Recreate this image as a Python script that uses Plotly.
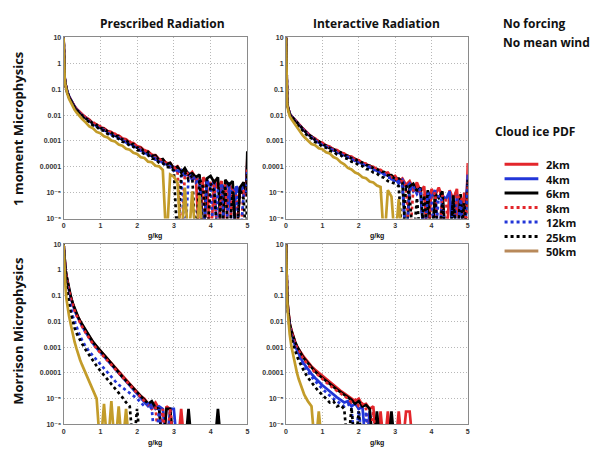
import numpy as np
import plotly.graph_objects as go

W, H = 590, 449

# ---------------- data ----------------
# bin positions (g/kg)
g_per_kg = [0, 0.01, 0.02, 0.03, 0.05, 0.075, 0.1, 0.15, 0.2, 0.25, 0.3, 0.35, 0.4, 0.45, 0.5,
            0.6, 0.7, 0.8, 0.9, 1.0, 1.1, 1.2, 1.3, 1.4, 1.5, 1.6, 1.7, 1.8, 1.9, 2.0,
            2.1, 2.2, 2.3, 2.4, 2.5, 2.6, 2.7, 2.8, 2.9, 3.0, 3.1, 3.2, 3.3, 3.4, 3.5,
            3.6, 3.7, 3.8, 3.9, 4.0, 4.1, 4.2, 4.3, 4.4, 4.5, 4.6, 4.7, 4.8, 4.9, 4.97, 5.0]

resolutions = ["2km", "4km", "6km", "8km", "12km", "25km", "50km"]
y_tick_values = [10, 1, 0.1, 0.01, 0.001, 0.0001, 1e-5, 1e-6]
y_tick_labels = ["10", "1", "0.1", "0.01", "0.001", "0.0001", "10\u207b\u2075", "10\u207b\u2076"]
x_tick_values = [0, 1, 2, 3, 4, 5]

# log10 of the cloud-ice PDF (-7 = empty bin, below the axis)
# --- Prescribed radiation, 1 moment microphysics ---
tl_2km = [1.0, 0.2, -0.3, -0.55, -0.8, -0.98, -1.1, -1.3, -1.44, -1.56, -1.66, -1.75, -1.83, -1.9, -1.96,
          -2.08, -2.17, -2.31, -2.36, -2.47, -2.51, -2.62, -2.65, -2.76, -2.79,
          -2.9, -2.93, -3.06, -3.08, -3.2, -3.24, -3.37, -3.4, -3.55, -3.55,
          -3.7, -3.72, -3.86, -3.85, -4.05, -3.98, -4.2, -4.12, -4.35, -4.2,
          -4.45, -7, -4.4, -4.6, -7, -4.5, -4.85, -4.55, -7, -4.65,
          -4.9, -7, -4.75, -5.1, -4.8, -3.7]
tl_4km = [1.0, 0.22, -0.28, -0.52, -0.78, -0.96, -1.08, -1.28, -1.43, -1.56, -1.67, -1.77, -1.86, -1.93, -2.0,
          -2.1, -2.25, -2.31, -2.44, -2.48, -2.6, -2.63, -2.75, -2.78, -2.9,
          -2.93, -3.06, -3.08, -3.21, -3.25, -3.38, -3.41, -3.55, -3.57, -3.72,
          -3.72, -3.85, -3.88, -4.02, -4.0, -4.2, -4.12, -4.35, -4.25, -4.5,
          -4.4, -4.65, -7, -4.5, -4.75, -4.55, -7, -4.7, -4.85, -4.6,
          -7, -4.75, -5.0, -4.7, -5.1, -3.9]
tl_6km = [1.0, 0.18, -0.32, -0.56, -0.8, -0.97, -1.1, -1.3, -1.45, -1.58, -1.69, -1.79, -1.87, -1.94, -2.01,
          -2.13, -2.2, -2.33, -2.38, -2.5, -2.53, -2.64, -2.68, -2.79, -2.82,
          -2.95, -2.97, -3.1, -3.12, -3.26, -3.27, -3.42, -3.42, -3.58, -3.56,
          -3.75, -3.7, -3.9, -3.85, -4.08, -4.0, -4.22, -4.05, -4.3, -4.25,
          -4.4, -4.3, -7, -4.45, -4.35, -4.6, -4.4, -7, -4.5, -4.7,
          -4.55, -7, -4.8, -4.6, -5.0, -3.4]
tl_8km = [1.0, 0.2, -0.3, -0.54, -0.79, -0.97, -1.1, -1.29, -1.44, -1.57, -1.68, -1.77, -1.85, -1.92, -1.98,
          -2.1, -2.22, -2.27, -2.4, -2.43, -2.55, -2.58, -2.7, -2.72, -2.84,
          -2.87, -2.99, -3.02, -3.15, -3.18, -3.31, -3.35, -3.48, -3.51, -3.65,
          -3.68, -3.83, -3.84, -4.0, -4.02, -4.15, -7, -4.3, -4.22, -4.5,
          -4.38, -4.65, -4.45, -7, -4.6, -4.75, -7, -4.85, -4.7, -7,
          -4.8, -5.05, -7, -4.9, -5.2, -4.0]
tl_12km = [1.0, 0.2, -0.3, -0.55, -0.8, -0.98, -1.11, -1.31, -1.46, -1.59, -1.7, -1.8, -1.88, -1.96, -2.03,
           -2.17, -2.24, -2.38, -2.43, -2.55, -2.58, -2.7, -2.73, -2.85, -2.88,
           -2.99, -3.03, -3.15, -3.18, -3.31, -3.35, -3.48, -3.5, -3.64, -3.67,
           -3.8, -3.83, -3.96, -3.98, -4.15, -4.1, -4.3, -7, -4.42, -4.3,
           -4.6, -4.45, -7, -4.55, -4.8, -7, -4.9, -4.7, -7, -4.85,
           -5.0, -4.8, -7, -5.1, -5.0, -4.2]
tl_25km = [1.0, 0.18, -0.32, -0.57, -0.82, -1.0, -1.13, -1.33, -1.48, -1.61, -1.72, -1.82, -1.9, -1.98, -2.05,
           -2.19, -2.26, -2.4, -2.45, -2.58, -2.6, -2.73, -2.76, -2.88, -2.91,
           -3.03, -3.06, -3.19, -3.22, -3.35, -3.38, -3.52, -3.54, -3.68, -3.7,
           -3.84, -3.86, -4.0, -4.02, -4.15, -7, -4.35, -4.2, -4.5, -4.35,
           -7, -4.45, -4.8, -7, -4.65, -4.95, -7, -5.05, -4.8, -7,
           -4.95, -7, -4.85, -5.25, -7, -4.3]
tl_50km = [1.0, 0.15, -0.35, -0.6, -0.85, -1.03, -1.17, -1.38, -1.54, -1.68, -1.8, -1.9, -1.99, -2.07, -2.14,
           -2.28, -2.44, -2.51, -2.65, -2.7, -2.82, -2.86, -2.98, -3.02, -3.14,
           -3.18, -3.3, -3.34, -3.46, -3.5, -3.63, -3.66, -3.8, -3.82, -3.96,
           -3.98, -4.12, -7, -4.3, -4.38, -4.6, -7, -4.8, -7, -4.95,
           -7, -5.1, -7, -7, -7, -7, -7, -7, -7, -7,
           -7, -7, -7, -7, -7, -7]

# --- Interactive radiation, 1 moment microphysics ---
tr_2km = [1.0, -0.8, -1.35, -1.5, -1.68, -1.84, -1.95, -2.04, -2.11, -2.18, -2.26, -2.34, -2.42, -2.5, -2.57,
          -2.68, -2.84, -2.9, -3.03, -3.07, -3.18, -3.21, -3.32, -3.35, -3.45,
          -3.48, -3.58, -3.6, -3.7, -3.74, -3.86, -3.88, -3.98, -4.0, -4.12,
          -4.12, -4.25, -4.22, -4.4, -4.35, -4.55, -4.45, -4.7, -4.55, -4.85,
          -4.6, -4.95, -4.75, -7, -4.85, -5.1, -4.8, -5.2, -7, -4.9,
          -5.25, -4.85, -7, -5.0, -5.2, -3.85]
tr_4km = [1.0, -0.78, -1.33, -1.49, -1.67, -1.83, -1.94, -2.04, -2.12, -2.2, -2.28, -2.36, -2.44, -2.52, -2.6,
          -2.71, -2.87, -2.94, -3.07, -3.11, -3.22, -3.26, -3.37, -3.4, -3.5,
          -3.53, -3.64, -3.66, -3.77, -3.79, -3.9, -3.92, -4.03, -4.05, -4.16,
          -4.18, -4.3, -4.32, -4.48, -4.45, -4.65, -4.5, -4.8, -4.65, -4.95,
          -4.8, -5.05, -7, -4.95, -5.2, -4.9, -7, -5.1, -5.25, -4.95,
          -7, -5.1, -5.3, -7, -5.0, -4.3]
tr_6km = [1.0, -0.82, -1.36, -1.51, -1.69, -1.85, -1.96, -2.05, -2.13, -2.21, -2.29, -2.37, -2.45, -2.53, -2.6,
          -2.75, -2.82, -2.96, -3.01, -3.13, -3.17, -3.28, -3.31, -3.42, -3.44,
          -3.55, -3.57, -3.68, -3.7, -3.8, -3.83, -3.93, -3.95, -4.06, -4.08,
          -4.18, -4.2, -4.34, -4.32, -4.5, -4.45, -4.6, -7, -4.75, -4.65,
          -4.95, -4.8, -7, -4.9, -7, -5.05, -5.2, -4.95, -7, -7,
          -5.1, -7, -5.05, -7, -5.2, -4.5]
tr_8km = [1.0, -0.8, -1.34, -1.5, -1.68, -1.84, -1.95, -2.05, -2.12, -2.2, -2.28, -2.36, -2.44, -2.52, -2.59,
          -2.7, -2.86, -2.92, -3.05, -3.09, -3.2, -3.23, -3.34, -3.37, -3.47,
          -3.5, -3.6, -3.63, -3.73, -3.75, -3.85, -3.88, -3.98, -4.0, -4.1,
          -4.13, -4.22, -4.28, -4.4, -4.42, -4.55, -4.55, -4.75, -7, -4.85,
          -4.75, -5.0, -5.05, -7, -5.15, -5.0, -7, -5.1, -5.3, -7,
          -7, -5.05, -5.3, -5.15, -7, -4.6]
tr_12km = [1.0, -0.8, -1.35, -1.51, -1.7, -1.86, -1.97, -2.07, -2.15, -2.23, -2.31, -2.39, -2.47, -2.55, -2.62,
           -2.78, -2.86, -3.0, -3.05, -3.17, -3.21, -3.32, -3.35, -3.46, -3.49,
           -3.59, -3.62, -3.72, -3.75, -3.85, -3.88, -3.98, -4.01, -4.12, -4.14,
           -4.25, -4.27, -4.42, -4.42, -4.6, -4.55, -4.75, -7, -4.9, -4.75,
           -5.05, -4.85, -7, -5.0, -5.3, -7, -5.1, -5.35, -7, -7,
           -5.3, -7, -5.25, -7, -5.4, -4.7]
tr_25km = [1.0, -0.84, -1.38, -1.53, -1.72, -1.88, -1.99, -2.09, -2.18, -2.26, -2.34, -2.42, -2.5, -2.58, -2.66,
           -2.82, -2.9, -3.04, -3.1, -3.22, -3.26, -3.38, -3.41, -3.52, -3.55,
           -3.66, -3.69, -3.8, -3.83, -3.94, -3.97, -4.08, -4.11, -4.22, -4.26,
           -4.38, -4.42, -4.55, -4.6, -4.65, -4.75, -7, -4.7, -5.15, -7,
           -5.2, -7, -5.1, -7, -7, -5.25, -7, -5.4, -7, -7,
           -5.3, -7, -7, -5.4, -7, -7]
tr_50km = [1.0, -0.85, -1.4, -1.56, -1.76, -1.93, -2.04, -2.16, -2.27, -2.38, -2.48, -2.58, -2.68, -2.77, -2.85,
           -2.98, -3.12, -3.16, -3.28, -3.32, -3.44, -3.48, -3.62, -3.68, -3.82,
           -3.9, -4.04, -4.1, -4.22, -4.28, -4.4, -4.44, -4.57, -4.6, -4.72,
           -4.78, -7, -4.9, -5.15, -7, -5.25, -7, -7, -7, -7,
           -7, -7, -7, -7, -7, -7, -7, -7, -7, -7,
           -7, -7, -7, -7, -7, -7]

# --- Prescribed radiation, Morrison microphysics ---
bl_2km = [1.0, 0.7, 0.47, 0.29, 0.04, -0.21, -0.42, -0.77, -1.07, -1.32, -1.52, -1.7, -1.86, -2.0, -2.13,
          -2.37, -2.6, -2.8, -2.98, -3.14, -3.3, -3.46, -3.62, -3.8, -3.96,
          -4.12, -4.28, -4.42, -4.58, -4.75, -4.9, -5.0, -5.2, -5.3, -5.15,
          -5.4, -7, -5.3, -5.4, -7, -7, -5.4, -7, -7, -7,
          -7, -7, -7, -7, -7, -7, -7, -7, -7, -7,
          -7, -7, -7, -7, -7, -7]
bl_4km = [1.0, 0.69, 0.46, 0.28, 0.02, -0.23, -0.44, -0.8, -1.1, -1.35, -1.56, -1.74, -1.9, -2.04, -2.17,
          -2.42, -2.65, -2.86, -3.04, -3.2, -3.37, -3.54, -3.7, -3.86, -4.02,
          -4.18, -4.33, -4.5, -4.65, -4.8, -4.95, -5.1, -5.3, -5.2, -5.4,
          -5.3, -5.4, -7, -5.4, -5.4, -7, -7, -7, -7, -7,
          -7, -7, -7, -7, -7, -7, -7, -7, -7, -7,
          -7, -7, -7, -7, -7, -7]
bl_6km = [1.0, 0.7, 0.48, 0.3, 0.05, -0.2, -0.4, -0.75, -1.05, -1.3, -1.5, -1.68, -1.84, -1.98, -2.1,
          -2.35, -2.58, -2.8, -2.97, -3.12, -3.3, -3.47, -3.65, -3.83, -4.0,
          -4.15, -4.3, -4.45, -4.6, -4.78, -4.9, -5.05, -5.2, -5.1, -5.35,
          -5.4, -7, -5.4, -5.4, -7, -7, -7, -7, -5.4, -7,
          -7, -7, -7, -7, -7, -7, -5.4, -7, -7, -7,
          -7, -7, -7, -7, -7, -7]
bl_8km = [1.0, 0.69, 0.46, 0.27, 0.01, -0.25, -0.46, -0.82, -1.12, -1.37, -1.58, -1.76, -1.92, -2.06, -2.19,
          -2.44, -2.67, -2.88, -3.06, -3.22, -3.38, -3.54, -3.7, -3.86, -4.02,
          -4.17, -4.32, -4.48, -4.63, -4.78, -4.95, -5.1, -5.25, -5.4, -5.3,
          -7, -5.4, -7, -5.4, -7, -7, -7, -7, -7, -7,
          -7, -7, -7, -7, -7, -7, -7, -7, -7, -7,
          -7, -7, -7, -7, -7, -7]
bl_12km = [1.0, 0.65, 0.4, 0.2, -0.15, -0.45, -0.7, -1.12, -1.45, -1.8, -2.0, -2.2, -2.42, -2.58, -2.72,
           -2.98, -3.17, -3.34, -3.5, -3.65, -3.83, -3.98, -4.15, -4.32, -4.46,
           -4.57, -4.68, -4.8, -4.9, -5.0, -5.15, -5.3, -5.2, -5.4, -7,
           -5.4, -7, -7, -7, -7, -7, -7, -7, -7, -7,
           -7, -7, -7, -7, -7, -7, -7, -7, -7, -7,
           -7, -7, -7, -7, -7, -7]
bl_25km = [1.0, 0.6, 0.35, 0.12, -0.22, -0.55, -0.85, -1.3, -1.7, -2.0, -2.25, -2.45, -2.6, -2.74, -2.86,
           -3.1, -3.32, -3.53, -3.73, -3.92, -4.1, -4.28, -4.45, -4.6, -4.78,
           -4.95, -5.15, -5.3, -7, -5.4, -7, -7, -7, -7, -7,
           -7, -7, -7, -7, -7, -7, -7, -7, -7, -7,
           -7, -7, -7, -7, -7, -7, -7, -7, -7, -7,
           -7, -7, -7, -7, -7, -7]
bl_50km = [1.0, 0.5, 0.2, -0.05, -0.6, -1.1, -1.4, -1.8, -2.15, -2.5, -2.8, -3.05, -3.3, -3.5, -3.68,
           -4.0, -4.35, -4.7, -5.0, -7, -5.2, -7, -5.1, -7, -5.3,
           -7, -5.4, -7, -7, -7, -7, -7, -7, -7, -7,
           -7, -7, -7, -7, -7, -7, -7, -7, -7, -7,
           -7, -7, -7, -7, -7, -7, -7, -7, -7, -7,
           -7, -7, -7, -7, -7, -7]

# --- Interactive radiation, Morrison microphysics ---
br_2km = [1.0, 0.0, -0.6, -1.0, -1.45, -1.8, -2.07, -2.35, -2.6, -2.82, -2.98, -3.1, -3.2, -3.3, -3.4,
          -3.6, -3.75, -3.88, -4.0, -4.12, -4.24, -4.36, -4.47, -4.58, -4.7,
          -4.8, -4.9, -5.0, -5.1, -5.0, -5.25, -5.2, -5.4, -5.3, -7,
          -5.5, -7, -5.5, -7, -7, -5.5, -7, -5.5, -5.5, -7,
          -7, -7, -7, -7, -7, -7, -7, -7, -7, -7,
          -7, -7, -7, -7, -7, -7]
br_4km = [1.0, -0.05, -0.65, -1.05, -1.52, -1.9, -2.18, -2.5, -2.75, -2.95, -3.12, -3.28, -3.42, -3.55, -3.66,
          -3.86, -4.04, -4.2, -4.35, -4.48, -4.6, -4.72, -4.85, -4.95, -5.05,
          -5.15, -5.1, -5.3, -5.2, -5.4, -5.3, -7, -5.5, -7, -7,
          -7, -7, -7, -7, -7, -7, -7, -7, -7, -7,
          -7, -7, -7, -7, -7, -7, -7, -7, -7, -7,
          -7, -7, -7, -7, -7, -7]
br_6km = [1.0, 0.0, -0.6, -1.0, -1.45, -1.8, -2.08, -2.38, -2.62, -2.8, -2.96, -3.1, -3.23, -3.35, -3.45,
          -3.63, -3.8, -3.95, -4.08, -4.2, -4.32, -4.44, -4.55, -4.65, -4.75,
          -4.85, -4.95, -5.05, -5.2, -5.1, -5.3, -5.25, -5.4, -7, -5.5,
          -7, -7, -7, -5.5, -7, -7, -7, -7, -7, -7,
          -7, -7, -7, -7, -7, -7, -7, -7, -7, -7,
          -7, -7, -7, -7, -7, -7]
br_8km = [1.0, -0.02, -0.62, -1.02, -1.48, -1.84, -2.12, -2.42, -2.66, -2.86, -3.02, -3.16, -3.28, -3.4, -3.5,
          -3.68, -3.84, -3.98, -4.12, -4.24, -4.36, -4.48, -4.6, -4.7, -4.8,
          -4.9, -5.0, -5.15, -5.05, -5.3, -5.2, -5.4, -7, -5.5, -7,
          -7, -7, -7, -7, -7, -7, -7, -7, -7, -7,
          -7, -7, -7, -7, -7, -7, -7, -7, -7, -7,
          -7, -7, -7, -7, -7, -7]
br_12km = [1.0, -0.05, -0.66, -1.06, -1.54, -1.93, -2.22, -2.55, -2.8, -3.0, -3.18, -3.35, -3.5, -3.63, -3.75,
           -3.96, -4.15, -4.32, -4.48, -4.62, -4.75, -4.88, -5.0, -5.1, -5.2,
           -5.3, -5.2, -5.4, -7, -5.35, -7, -5.5, -7, -7, -7,
           -7, -7, -7, -7, -7, -7, -7, -7, -7, -7,
           -7, -7, -7, -7, -7, -7, -7, -7, -7, -7,
           -7, -7, -7, -7, -7, -7]
br_25km = [1.0, -0.08, -0.7, -1.1, -1.6, -2.0, -2.3, -2.65, -2.92, -3.15, -3.35, -3.52, -3.68, -3.82, -3.95,
           -4.18, -4.38, -4.55, -4.72, -4.88, -5.0, -5.15, -5.1, -5.3, -5.25,
           -5.4, -7, -5.35, -7, -5.5, -7, -7, -7, -7, -7,
           -7, -7, -7, -7, -7, -7, -7, -7, -7, -7,
           -7, -7, -7, -7, -7, -7, -7, -7, -7, -7,
           -7, -7, -7, -7, -7, -7]
br_50km = [1.0, -0.1, -0.75, -1.15, -1.7, -2.15, -2.5, -3.0, -3.38, -3.72, -4.0, -4.25, -4.48, -4.68, -4.85,
           -5.1, -5.3, -7, -5.5, -7, -7, -7, -7, -7, -7,
           -7, -7, -7, -7, -7, -7, -7, -7, -7, -7,
           -7, -7, -7, -7, -7, -7, -7, -7, -7, -7,
           -7, -7, -7, -7, -7, -7, -7, -7, -7, -7,
           -7, -7, -7, -7, -7, -7]

panels = [
    ("x", "y", [tl_2km, tl_4km, tl_6km, tl_8km, tl_12km, tl_25km, tl_50km]),
    ("x2", "y2", [tr_2km, tr_4km, tr_6km, tr_8km, tr_12km, tr_25km, tr_50km]),
    ("x3", "y3", [bl_2km, bl_4km, bl_6km, bl_8km, bl_12km, bl_25km, bl_50km]),
    ("x4", "y4", [br_2km, br_4km, br_6km, br_8km, br_12km, br_25km, br_50km]),
]

# ---------------- style ----------------
line_colors = ["#e3262b", "#2236d8", "#000000", "#e3262b", "#2236d8", "#000000", "#c39c2a"]
legend_colors = ["#e3262b", "#2236d8", "#000000", "#e3262b", "#2236d8", "#000000", "#b8895a"]
line_dashes = ["solid", "solid", "solid", "dot", "dot", "dot", "solid"]


def px(x):
    return x / W


def py(y):
    return 1 - y / H


fig = go.Figure()
for xa, ya, series in panels:
    for name, vals, col, dsh in zip(resolutions, series, line_colors, line_dashes):
        if len(vals) != len(g_per_kg):
            raise ValueError(f"{xa} {name}: {len(vals)} values")
        fig.add_trace(go.Scatter(
            x=g_per_kg, y=np.power(10.0, vals), mode="lines", name=name,
            line=dict(color=col, width=2.7, dash=dsh), showlegend=False,
            xaxis=xa, yaxis=ya, hoverinfo="skip"))

tickfont = dict(family="Liberation Sans, DejaVu Sans", size=7, color="#333333", weight="bold")
common = dict(showline=True, linecolor="#8a8a8a", linewidth=1, mirror=True,
              showgrid=True, gridcolor="#b8b8b8", griddash="1px,2px", gridwidth=1,
              zeroline=False, ticks="", tickfont=tickfont)

xdoms = [(62, 247), (286, 469)]
ydoms = [(34, 218), (244, 427)]
layout_axes = {}
for k, (xa, ya, _) in enumerate(panels):
    col, row = k % 2, k // 2
    xname = "xaxis" + ("" if k == 0 else str(k + 1))
    yname = "yaxis" + ("" if k == 0 else str(k + 1))
    layout_axes[xname] = dict(common, domain=[px(xdoms[col][0]), px(xdoms[col][1])],
                              range=[0, 5], tickvals=x_tick_values, anchor=ya)
    layout_axes[yname] = dict(common, domain=[py(ydoms[row][1]), py(ydoms[row][0])],
                              type="log", range=[-6, 1], tickvals=y_tick_values,
                              ticktext=y_tick_labels, anchor=xa)

ann = []
bold = dict(family="Open Sans", color="#111111", weight="bold")


def text(t, x, y, size, xanchor="center", angle=0, family="Open Sans", height=None):
    a = dict(text=t, x=px(x), y=py(y), xref="paper", yref="paper",
             xanchor=xanchor, yanchor="middle", showarrow=False, textangle=angle,
             font=dict(bold, size=size, family=family))
    if height is not None:
        a["height"] = height
    ann.append(a)


text("Prescribed Radiation", 162, 20, 12)
text("Interactive Radiation", 377, 20, 12)
text("1 moment Microphysics", 16, 127, 13, angle=-90)
text("Morrison Microphysics", 16, 332, 13, angle=-90)
text("g/kg", 154, 236, 7, family="Liberation Sans")
text("g/kg", 378, 236, 7, family="Liberation Sans")
text("g/kg", 154, 446, 7, family="Liberation Sans")
text("g/kg", 378, 446, 7, family="Liberation Sans")
text("No forcing", 502, 20, 12, xanchor="left")
text("No mean wind", 502, 39, 12, xanchor="left")
text("Cloud ice PDF", 494, 130, 12, xanchor="left")

shapes = []
for i, name in enumerate(resolutions):
    yy = 162.7 + i * 14.7
    shapes.append(dict(type="line", xref="paper", yref="paper", x0=px(506), x1=px(540),
                       y0=py(yy), y1=py(yy),
                       line=dict(color=legend_colors[i], width=3, dash=line_dashes[i])))
    text(name, 546, yy, 11, xanchor="left", height=14)

fig.update_layout(width=W, height=H, margin=dict(l=0, r=0, t=0, b=0),
                  paper_bgcolor="white", plot_bgcolor="white",
                  annotations=ann, shapes=shapes, showlegend=False, **layout_axes)

fig.write_html("out.html")
